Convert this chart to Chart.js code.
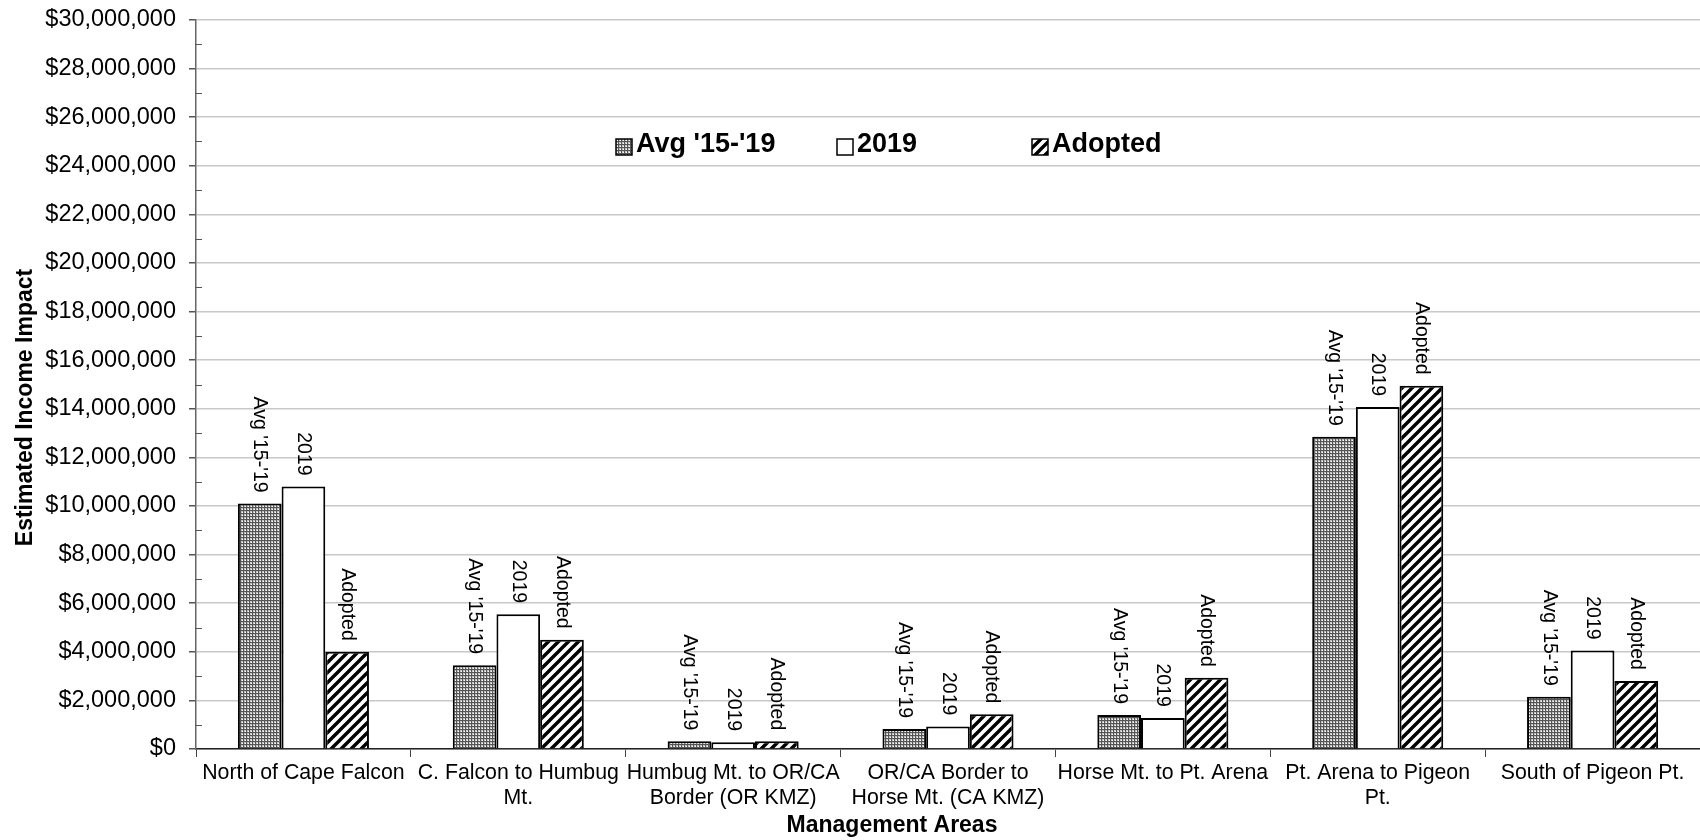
<!DOCTYPE html>
<html>
<head>
<meta charset="utf-8">
<script src="https://cdn.jsdelivr.net/npm/chart.js@4/dist/chart.umd.min.js"></script>
<style>
  html, body { margin: 0; padding: 0; background: #fff; }
  #wrap { width: 1700px; height: 840px; }
</style>
</head>
<body>
<div id="wrap"><canvas id="chart" width="1700" height="840"></canvas></div>
<script>
"use strict";

// management areas (x categories), multi-line where the reference wraps
const areas = [
  ["North of Cape Falcon"],
  ["C. Falcon to Humbug", "Mt."],
  ["Humbug Mt. to OR/CA", "Border (OR KMZ)"],
  ["OR/CA Border to", "Horse Mt. (CA KMZ)"],
  ["Horse Mt. to Pt. Arena"],
  ["Pt. Arena to Pigeon", "Pt."],
  ["South of Pigeon Pt."],
];

// estimated income impact, dollars
const avg1519 = [10100000, 3450000, 320000, 820000, 1400000, 12850000, 2150000];
const year2019 = [10800000, 5550000, 280000, 930000, 1280000, 14070000, 4050000];
const adopted = [4000000, 4500000, 320000, 1430000, 2930000, 14950000, 2800000];

const seriesNames = ["Avg '15-'19", "2019", "Adopted"];
const xTitle = "Management Areas";
const yTitle = "Estimated Income Impact";

const yMin = 0;
const yMax = 30000000;
const yMajor = 2000000;
const yMinor = 1000000;

const FONT = "'Liberation Sans', Arial, sans-serif";

// fill patterns
const makePattern = (size, draw) => {
  const c = document.createElement("canvas");
  c.width = size;
  c.height = size;
  const g = c.getContext("2d");
  draw(g, size);
  return document.getElementById("chart").getContext("2d").createPattern(c, "repeat");
};

const dotted = makePattern(3, (g) => {
  g.fillStyle = "#c4c4c4";
  g.fillRect(0, 0, 3, 3);
  g.fillStyle = "#555";
  g.fillRect(0, 0, 3, 1);
  g.fillRect(0, 0, 1, 3);
  g.fillStyle = "#fff";
  g.fillRect(2, 2, 1, 1);
});

const hatched = makePattern(10, (g, s) => {
  g.fillStyle = "#fff";
  g.fillRect(0, 0, s, s);
  g.strokeStyle = "#000";
  g.lineWidth = 3.4;
  g.beginPath();
  g.moveTo(-2, s + 2); g.lineTo(s + 2, -2);
  g.moveTo(-2, 2); g.lineTo(2, -2);
  g.moveTo(s - 2, s + 2); g.lineTo(s + 2, s - 2);
  g.stroke();
});

// rotated series name above each bar
const barLabels = {
  id: "barLabels",
  afterDatasetsDraw(chart) {
    const ctx = chart.ctx;
    ctx.save();
    ctx.font = "19.5px " + FONT;
    ctx.fillStyle = "#000";
    ctx.textAlign = "right";
    ctx.textBaseline = "middle";
    chart.data.datasets.forEach((ds, i) => {
      chart.getDatasetMeta(i).data.forEach((bar) => {
        ctx.save();
        ctx.translate(bar.x, bar.y - 11);
        ctx.rotate(Math.PI / 2);
        ctx.fillText(ds.label, 0, 0);
        ctx.restore();
      });
    });
    ctx.restore();
  },
};

// legend slot offsets from the plot's left edge
const legendSlots = [420, 641, 836];

// minor ticks, legend and axis titles
const extras = {
  id: "extras",
  afterDraw(chart) {
    const ctx = chart.ctx;
    const y = chart.scales.y;
    const area = chart.chartArea;
    ctx.save();
    ctx.strokeStyle = "#555";
    ctx.lineWidth = 1;
    for (let v = yMinor; v < yMax; v += yMajor) {
      const py = Math.round(y.getPixelForValue(v)) + 0.5;
      ctx.beginPath();
      ctx.moveTo(area.left, py);
      ctx.lineTo(area.left + 6, py);
      ctx.stroke();
    }

    // legend
    ctx.font = "bold 27px " + FONT;
    ctx.textBaseline = "middle";
    ctx.textAlign = "left";
    const ly = area.top + 127;
    const box = 16;
    chart.data.datasets.forEach((ds, i) => {
      const x = area.left + legendSlots[i];
      ctx.fillStyle = ds.backgroundColor;
      ctx.fillRect(x, ly - box / 2, box, box);
      ctx.strokeStyle = "#000";
      ctx.lineWidth = 1.5;
      ctx.strokeRect(x, ly - box / 2, box, box);
      ctx.fillStyle = "#000";
      ctx.fillText(ds.label, x + box + 4, ly - 2);
    });

    // axis titles
    ctx.font = "bold 23px " + FONT;
    ctx.textAlign = "center";
    ctx.textBaseline = "alphabetic";
    ctx.fillText(xTitle, (area.left + area.right) / 2 - 56, chart.height - 8);
    ctx.save();
    ctx.translate(32, (area.top + area.bottom) / 2 + 23);
    ctx.rotate(-Math.PI / 2);
    ctx.fillText(yTitle, 0, 0);
    ctx.restore();
    ctx.restore();
  },
};

const datasetStyle = {
  borderColor: "#000",
  borderWidth: 2,
  borderSkipped: "bottom",
  categoryPercentage: 0.61,
  barPercentage: 1.0,
};

new Chart(document.getElementById("chart"), {
  type: "bar",
  data: {
    labels: areas,
    datasets: [
      { label: seriesNames[0], data: avg1519, backgroundColor: dotted, ...datasetStyle },
      { label: seriesNames[1], data: year2019, backgroundColor: "#fff", ...datasetStyle },
      { label: seriesNames[2], data: adopted, backgroundColor: hatched, ...datasetStyle },
    ],
  },
  options: {
    responsive: false,
    animation: false,
    layout: { padding: { top: 20, right: 0, left: 0, bottom: 0 } },
    plugins: {
      legend: { display: false },
      tooltip: { enabled: false },
    },
    scales: {
      x: {
        grid: {
          display: true,
          drawOnChartArea: false,
          offset: true,
          tickLength: 8,
          color: "#444",
        },
        border: { color: "#222", width: 1.5 },
        ticks: {
          color: "#000",
          font: { family: FONT, size: 21.3 },
          padding: 3,
          maxRotation: 0,
          autoSkip: false,
        },
        afterFit(scale) {
          scale.height = 91;
          scale.paddingLeft = 0;
          scale.paddingRight = 0;
        },
      },
      y: {
        min: yMin,
        max: yMax,
        grid: {
          color: (c) => (c.tick && c.tick.value % yMajor === 0 ? "#c8c8c8" : "transparent"),
          tickColor: (c) => (c.tick && c.tick.value % yMajor === 0 ? "#555" : "transparent"),
          tickLength: 7,
          lineWidth: 1.5,
        },
        border: { color: "#666", width: 1.5 },
        ticks: {
          stepSize: yMinor,
          maxTicksLimit: 40,
          autoSkip: false,
          color: "#000",
          padding: 13,
          font: { family: FONT, size: 23.5 },
          callback: (v) => (v % yMajor === 0 ? "$" + v.toLocaleString("en-US") : ""),
        },
        afterFit(scale) {
          scale.width = 196;
          scale.paddingTop = 0;
          scale.paddingBottom = 0;
        },
      },
    },
  },
  plugins: [barLabels, extras],
});
</script>
</body>
</html>
